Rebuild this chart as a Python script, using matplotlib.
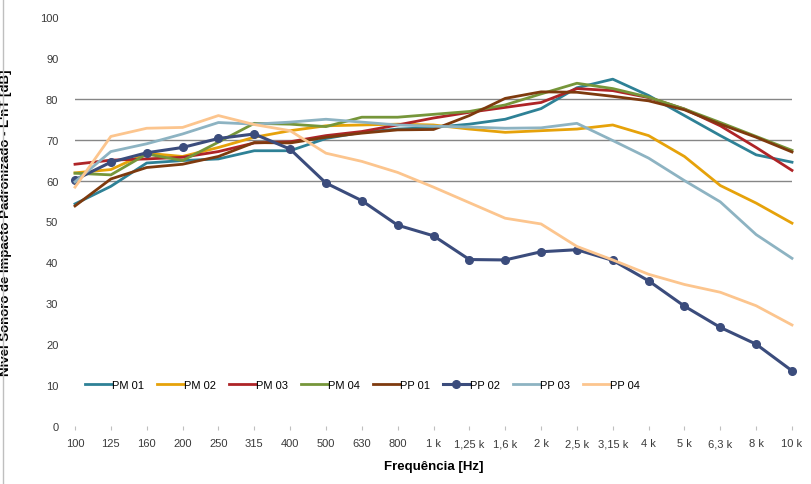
import matplotlib

matplotlib.use("Agg")
import matplotlib.pyplot as plt
import numpy as np

plt.rcParams["font.family"] = ["Liberation Sans", "DejaVu Sans"]

freqs = ["100", "125", "160", "200", "250", "315", "400", "500", "630", "800",
         "1 k", "1,25 k", "1,6 k", "2 k", "2,5 k", "3,15 k", "4 k", "5 k",
         "6,3 k", "8 k", "10 k"]

pm01 = [54.3, 58.6, 64.3, 64.9, 65.3, 67.3, 67.3, 70.3, 71.8, 72.6, 73.0,
        73.8, 75.0, 77.6, 82.7, 84.8, 80.8, 75.9, 71.0, 66.3, 64.5]
pm02 = [61.9, 62.7, 66.7, 65.9, 68.1, 70.6, 72.2, 73.4, 73.6, 73.8, 73.6,
        72.6, 71.8, 72.2, 72.6, 73.6, 71.0, 65.9, 58.8, 54.5, 49.6]
pm03 = [64.0, 65.0, 65.3, 65.7, 67.1, 69.2, 69.5, 71.0, 72.0, 73.6, 75.3,
        76.7, 77.9, 79.1, 82.5, 82.0, 80.3, 77.5, 73.4, 68.1, 62.5]
pm04 = [61.8, 61.4, 66.5, 64.9, 69.4, 74.0, 73.8, 73.2, 75.5, 75.5, 76.2,
        76.9, 78.5, 81.2, 83.8, 82.5, 80.4, 77.5, 74.2, 70.8, 67.4]
pp01 = [53.8, 60.4, 63.2, 64.0, 65.9, 69.3, 69.2, 70.6, 71.6, 72.4, 72.5,
        75.9, 80.1, 81.7, 81.6, 80.6, 79.5, 77.3, 73.8, 70.6, 67.0]
pp02 = [60.2, 64.5, 66.8, 68.1, 70.3, 71.4, 67.7, 59.4, 55.1, 49.1, 46.5,
        40.7, 40.6, 42.6, 43.1, 40.5, 35.5, 29.3, 24.1, 20.0, 13.5]
pp03 = [59.7, 67.1, 69.0, 71.4, 74.2, 73.8, 74.3, 75.0, 74.3, 73.6, 73.3,
        73.1, 72.8, 72.9, 74.0, 69.8, 65.5, 60.0, 54.8, 46.8, 41.0]
pp04 = [58.4, 70.8, 72.8, 73.0, 75.9, 73.7, 72.2, 66.7, 64.7, 62.0, 58.4,
        54.6, 50.8, 49.4, 43.9, 40.6, 37.1, 34.6, 32.7, 29.4, 24.7]

series = [
    ("PM 01", pm01, "#2E8196"),
    ("PM 02", pm02, "#E6A20A"),
    ("PM 03", pm03, "#AE2427"),
    ("PM 04", pm04, "#76963A"),
    ("PP 01", pp01, "#7E3A0E"),
    ("PP 02", pp02, "#3B4C7C"),
    ("PP 03", pp03, "#8DB3C2"),
    ("PP 04", pp04, "#FCC58E"),
]

fig = plt.figure(figsize=(8.11, 4.85), dpi=100)
ax = fig.add_axes([75 / 811, 58 / 485, 717 / 811, 409 / 485])

x = np.arange(len(freqs))
for name, vals, color in series:
    if name == "PP 02":
        ax.plot(x, vals, color=color, lw=2.2, marker="o", ms=5.5,
                label=name, clip_on=False, solid_joinstyle="round")
    else:
        ax.plot(x, vals, color=color, lw=2.0, label=name, clip_on=False,
                solid_joinstyle="round")

# only three gridlines are drawn in the original
for g in [60, 70, 80]:
    ax.axhline(g, color="#868686", lw=1.0, zorder=0)

ax.set_xlim(0, len(freqs) - 1)
ax.set_ylim(0, 100)
ax.set_yticks(range(0, 101, 10))
ax.set_xticks(x)
ax.set_xticklabels(freqs)
for s in ax.spines.values():
    s.set_visible(False)
ax.tick_params(axis="y", length=0, pad=12, labelsize=8, labelcolor="#3A3A3A")
ax.tick_params(axis="x", length=3, color="#BFBFBF", pad=6, labelsize=8,
               labelcolor="#3A3A3A")

ax.set_xlabel("Frequência [Hz]", fontsize=9.5, fontweight="bold", labelpad=8)
ax.set_ylabel("Nível Sonoro de Impacto Padronizado - L'nT [dB]", fontsize=9.5,
              fontweight="bold", labelpad=20)

ax.legend(loc="center left", bbox_to_anchor=(0.0, 0.1), ncol=8, frameon=False,
          fontsize=8, handlelength=2.4, handletextpad=0.0, columnspacing=1.2,
          borderaxespad=0.5)

fig.add_artist(plt.Line2D([3 / 811, 3 / 811], [0, 1], color="#BFBFBF", lw=1))

fig.savefig("out.png", dpi=100)
